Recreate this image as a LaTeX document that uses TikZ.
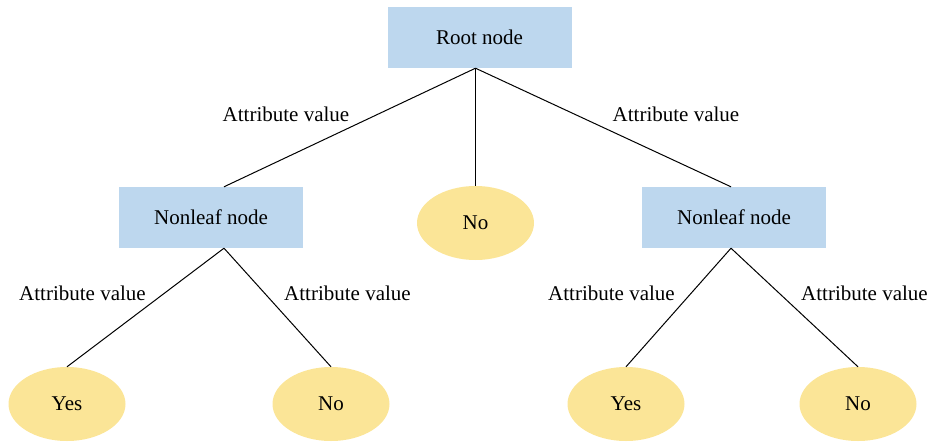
\documentclass[tikz,border=0pt]{standalone}
\usepackage{fontspec}
\setmainfont{Liberation Serif}
\usetikzlibrary{shapes.geometric}
\definecolor{boxblue}{HTML}{BDD7EE}
\definecolor{leafyellow}{HTML}{FBE597}
\begin{document}
\begin{tikzpicture}[x=1pt,y=1pt,
  inner/.style={rectangle,fill=boxblue,minimum width=184pt,minimum height=61pt,inner sep=0pt,font=\fontsize{21}{24}\selectfont},
  leaf/.style={ellipse,fill=leafyellow,minimum width=117pt,minimum height=74pt,inner sep=0pt,font=\fontsize{21}{24}\selectfont},
  lbl/.style={font=\fontsize{21}{24}\selectfont,inner sep=0pt},
  edge/.style={draw=black,line width=1pt}]
\useasboundingbox (0,0) rectangle (935,-447);
% decision nodes
\node[inner] (root) at (479.5,-37.5) {Root node};
\node[inner] (nl) at (211,-217.5) {Nonleaf node};
\node[inner] (nr) at (734,-217.5) {Nonleaf node};
% leaves
\node[leaf] (mid) at (475.5,-223) {No};
\node[leaf] (yl) at (67,-404) {Yes};
\node[leaf] (nol) at (331,-404) {No};
\node[leaf] (yr) at (626,-404) {Yes};
\node[leaf] (nor) at (858,-404) {No};
% branch junctions
\coordinate (rj) at (root.south -| mid.north);
\coordinate (nlt) at ([xshift=13pt]nl.north);
\coordinate (nlb) at ([xshift=13pt]nl.south);
\coordinate (nrt) at ([xshift=-3pt]nr.north);
\coordinate (nrb) at ([xshift=-3pt]nr.south);
% branches
\draw[edge] (rj) -- (nlt);
\draw[edge] (rj) -- (mid.north);
\draw[edge] (rj) -- (nrt);
\draw[edge] (nlb) -- (yl.north);
\draw[edge] (nlb) -- (nol.north);
\draw[edge] (nrb) -- (yr.north);
\draw[edge] (nrb) -- (nor.north);
% branch labels
\node[lbl] (a1) at (286,-114) {Attribute value};
\node[lbl] (a2) at (676,-114) {Attribute value};
\node[lbl] (a3) at (82.5,-293) {Attribute value};
\node[lbl] (a4) at (347.5,-293) {Attribute value};
\node[lbl] (a5) at (611.5,-293) {Attribute value};
\node[lbl] (a6) at (864.5,-293) {Attribute value};
\end{tikzpicture}
\end{document}
